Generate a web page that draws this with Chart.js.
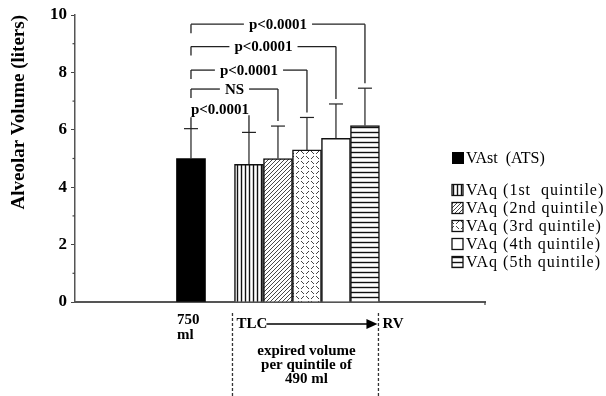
<!DOCTYPE html>
<html>
<head>
<meta charset="utf-8">
<script src="https://cdn.jsdelivr.net/npm/chart.js@4/dist/chart.umd.min.js"></script>
<style>
  body { margin: 0; background: #fff; }
  canvas { display: block; }
</style>
</head>
<body>
<canvas id="chart" width="606" height="396"></canvas>
<script>
// bars: reference VAst and the five expired-volume quintiles
const categories = ['VAst  (ATS)', 'VAq (1st  quintile)', 'VAq (2nd quintile)', 'VAq (3rd quintile)', 'VAq (4th quintile)', 'VAq (5th quintile)'];
const slots = [4, 6, 7, 8, 9, 10];
const means = [5.0, 4.8, 5.0, 5.3, 5.7, 6.15];
const sds = [1.04, 1.11, 1.13, 1.13, 1.2, 1.3];
const yTicks = [0, 2, 4, 6, 8, 10];

// significance brackets, all against the first bar
const bracketTo = [5, 4, 3, 2, 1];
const bracketLevel = [9.68, 8.9, 8.08, 7.42, 6.72];
const bracketText = ['p<0.0001', 'p<0.0001', 'p<0.0001', 'NS', 'p<0.0001'];

const canvas = document.getElementById('chart');
const ctx = canvas.getContext('2d');

function pattern(w, h, draw) {
  const c = document.createElement('canvas');
  c.width = w; c.height = h;
  const g = c.getContext('2d');
  g.fillStyle = '#fff';
  g.fillRect(0, 0, w, h);
  g.strokeStyle = '#111';
  draw(g);
  return ctx.createPattern(c, 'repeat');
}

const fills = [
  '#000',
  pattern(4, 4, g => { g.lineWidth = 1.4; g.beginPath(); g.moveTo(1.5, 0); g.lineTo(1.5, 4); g.stroke(); }),
  pattern(4, 4, g => {
    g.lineWidth = 0.9; g.strokeStyle = '#333';
    g.beginPath(); g.moveTo(0, 4); g.lineTo(4, 0); g.moveTo(-1, 1); g.lineTo(1, -1); g.moveTo(3, 5); g.lineTo(5, 3); g.stroke();
  }),
  pattern(10, 10, g => {
    g.lineWidth = 1; g.strokeStyle = '#444';
    g.beginPath();
    g.moveTo(1, 1); g.lineTo(4, 4);
    g.moveTo(6, 4); g.lineTo(9, 1);
    g.moveTo(4, 6); g.lineTo(1, 9);
    g.moveTo(6, 6); g.lineTo(9, 9);
    g.stroke();
  }),
  '#fff',
  pattern(5, 5, g => { g.lineWidth = 1.4; g.beginPath(); g.moveTo(0, 2.5); g.lineTo(5, 2.5); g.stroke(); }),
];

function line(x0, y0, x1, y1) {
  ctx.beginPath();
  ctx.moveTo(x0, y0);
  ctx.lineTo(x1, y1);
  ctx.stroke();
}

const overlay = {
  id: 'overlay',
  afterDatasetsDraw(chart) {
    const { scales: { x, y }, chartArea } = chart;
    const bars = chart.getDatasetMeta(0).data;
    const px = i => x.getPixelForValue(slots[i]);
    const capY = i => y.getPixelForValue(means[i] + sds[i]);
    ctx.save();

    // error bars (upper only)
    ctx.strokeStyle = '#222';
    ctx.lineWidth = 1.2;
    means.forEach((m, i) => {
      const cx = px(i);
      line(cx, y.getPixelForValue(m), cx, capY(i));
      line(cx - 7, capY(i), cx + 7, capY(i));
    });

    // minor ticks on the y axis
    ctx.strokeStyle = '#444';
    ctx.lineWidth = 1.2;
    for (let v = 1; v < 10; v += 2) {
      const py = y.getPixelForValue(v);
      line(chartArea.left - 2.5, py, chartArea.left, py);
    }
    // end tick of the baseline
    line(chartArea.right, chartArea.bottom, chartArea.right, chartArea.bottom + 3);

    // brackets
    ctx.font = 'bold 15px "Liberation Serif"';
    ctx.textAlign = 'center';
    ctx.textBaseline = 'middle';
    ctx.fillStyle = '#000';
    ctx.strokeStyle = '#222';
    ctx.lineWidth = 1.3;
    bracketTo.forEach((to, k) => {
      const x0 = px(0), x1 = px(to);
      const yl = y.getPixelForValue(bracketLevel[k]);
      const tx = (x0 + x1) / 2;
      const half = ctx.measureText(bracketText[k]).width / 2 + 5;
      const hasLine = tx - half > x0;
      if (hasLine) {
        line(x0, yl, tx - half, yl);
        line(tx + half, yl, x1, yl);
        line(x0, yl, x0, yl + 9);
        line(x1, yl, x1, capY(to) - 5);
      } else {
        line(x0, yl + 8, x0, capY(0));
        line(x1, yl + 6, x1, capY(to));
      }
      ctx.fillText(bracketText[k], tx, yl + 1);
    });

    // legend
    const lx = 452;
    const rows = [158, 190, 208, 226, 244, 262];
    ctx.textAlign = 'left';
    ctx.font = '16px "Liberation Serif"';
    categories.forEach((c, i) => {
      const s = i === 0 ? 12 : 11;
      ctx.fillStyle = fills[i];
      ctx.fillRect(lx, rows[i] - s / 2, s, s);
      if (i > 0) {
        ctx.strokeStyle = '#111';
        ctx.lineWidth = 1.3;
        ctx.strokeRect(lx, rows[i] - s / 2, s, s);
      }
      ctx.fillStyle = '#000';
      ctx.letterSpacing = i === 0 ? '0px' : '1px';
      ctx.fillText(c, 466, rows[i] + 1);
    });
    ctx.letterSpacing = '0px';

    // annotations under the axis
    const base = chartArea.bottom;
    ctx.font = 'bold 15px "Liberation Serif"';
    ctx.fillText('750', px(0) - 14, base + 18);
    ctx.fillText('ml', px(0) - 14, base + 33);

    const xl = px(1) - bars[1].width / 2 - 2;
    const xr = px(5) + bars[5].width / 2 - 1;
    ctx.strokeStyle = '#333';
    ctx.lineWidth = 1.3;
    ctx.setLineDash([3, 2]);
    line(xl, base + 11, xl, 396);
    line(xr, base + 11, xr, 396);
    ctx.setLineDash([]);

    const ya = base + 22;
    ctx.fillText('TLC', xl + 4, ya);
    ctx.fillText('RV', xr + 4, ya);
    ctx.strokeStyle = '#000';
    ctx.lineWidth = 1.5;
    line(xl + 34, ya, xr - 8, ya);
    ctx.beginPath();
    ctx.moveTo(xr - 1, ya);
    ctx.lineTo(xr - 12, ya - 5);
    ctx.lineTo(xr - 12, ya + 5);
    ctx.closePath();
    ctx.fill();

    ctx.textAlign = 'center';
    const mx = (xl + xr) / 2 + 1;
    ctx.fillText('expired volume', mx, base + 49);
    ctx.fillText('per quintile of', mx, base + 63);
    ctx.fillText('490 ml', mx, base + 77);

    ctx.restore();
  }
};

new Chart(canvas, {
  type: 'bar',
  data: {
    datasets: [{
      data: slots.map((s, i) => ({ x: s, y: means[i] })),
      backgroundColor: fills,
      borderColor: '#111',
      borderWidth: [0, 1.5, 1.5, 1.5, 1.5, 1.5],
      categoryPercentage: 1,
      barPercentage: 1,
    }],
  },
  options: {
    responsive: false,
    animation: false,
    devicePixelRatio: 1,
    layout: {
      padding: { left: 0, top: 15, right: 121, bottom: 94 },
    },
    plugins: {
      legend: { display: false },
      tooltip: { enabled: false },
    },
    scales: {
      x: {
        type: 'linear',
        offset: false,
        min: 0,
        max: 14.14,
        ticks: { display: false },
        grid: { drawOnChartArea: false, drawTicks: false, offset: false },
        border: { color: '#555', width: 2 },
        afterFit: s => { s.height = 0; },
      },
      y: {
        min: 0,
        max: 10,
        ticks: {
          stepSize: 1,
          padding: 4,
          color: '#000',
          font: { family: 'Liberation Serif', size: 17, weight: 'bold' },
          callback: v => yTicks.includes(v) ? v : '',
        },
        grid: {
          drawOnChartArea: false,
          tickLength: 4,
          color: c => (c.tick && c.tick.value % 2) ? 'rgba(0,0,0,0)' : '#444',
        },
        border: { color: '#555', width: 1.5 },
        title: {
          display: true,
          text: 'Alveolar Volume (liters)',
          align: 'end',
          color: '#000',
          font: { family: 'Liberation Serif', size: 19, weight: 'bold' },
          padding: { top: 8, bottom: 0 },
        },
        afterFit: s => { s.width = 75; },
      },
    },
  },
  plugins: [overlay],
});
</script>
</body>
</html>
